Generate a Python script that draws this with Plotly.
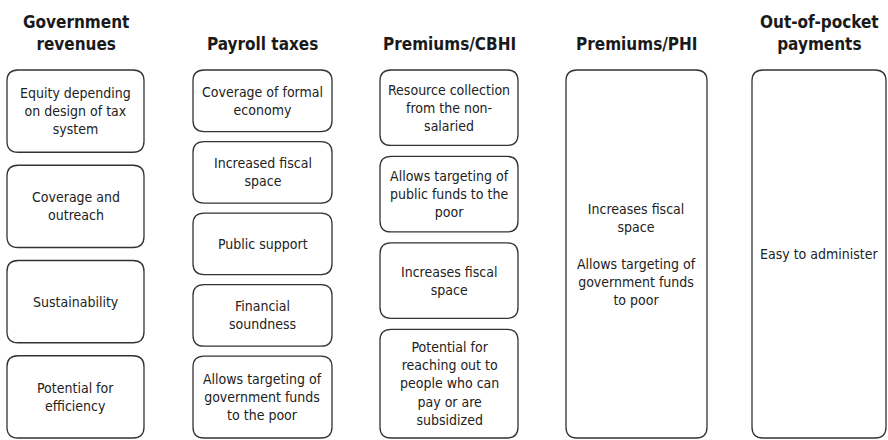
import plotly.graph_objects as go

# column headers and the points listed under each one
titles = [
    "Government<br>revenues",
    "Payroll taxes",
    "Premiums/CBHI",
    "Premiums/PHI",
    "Out-of-pocket<br>payments",
]
gov_revenues = [
    "Equity depending<br>on design of tax<br>system",
    "Coverage and<br>outreach",
    "Sustainability",
    "Potential for<br>efficiency",
]
payroll_taxes = [
    "Coverage of formal<br>economy",
    "Increased fiscal<br>space",
    "Public support",
    "Financial<br>soundness",
    "Allows targeting of<br>government funds<br>to the poor",
]
premiums_cbhi = [
    "Resource collection<br>from the non-<br>salaried",
    "Allows targeting of<br>public funds to the<br>poor",
    "Increases fiscal<br>space",
    "Potential for<br>reaching out to<br>people who can<br>pay or are<br>subsidized",
]
premiums_phi = [
    "Increases fiscal<br>space<br><br>Allows targeting of<br>government funds<br>to poor",
]
out_of_pocket = ["Easy to administer"]

columns = [gov_revenues, payroll_taxes, premiums_cbhi, premiums_phi, out_of_pocket]

# layout (pixel space, y downwards)
W, H = 888, 440
col_x = [(7, 144), (193, 332), (380, 518), (566, 707), (752, 886)]
box_top, box_bottom = 70, 438
gaps = [13, 10, 11, 0, 0]
weights = [
    [1, 1, 1, 1],
    [1, 1, 1, 1, 1.33],
    [1, 1, 1, 1.44],
    [1],
    [1],
]
RADIUS = 11
LINE = "#333333"
FONT = "Liberation Sans Narrow, Arial Narrow, DejaVu Sans Condensed, sans-serif"


def rounded_box(x0, y0, x1, y1, r):
    return (
        f"M {x0 + r},{y0} L {x1 - r},{y0} Q {x1},{y0} {x1},{y0 + r} "
        f"L {x1},{y1 - r} Q {x1},{y1} {x1 - r},{y1} "
        f"L {x0 + r},{y1} Q {x0},{y1} {x0},{y1 - r} "
        f"L {x0},{y0 + r} Q {x0},{y0} {x0 + r},{y0} Z"
    )


fig = go.Figure()
shapes = []
annotations = []

for title, items, (x0, x1), gap, wts in zip(titles, columns, col_x, gaps, weights):
    cx = (x0 + x1) / 2
    annotations.append(dict(
        x=cx, y=56, xref="x", yref="y", text=f"<b>{title}</b>",
        showarrow=False, yanchor="bottom", align="center",
        font=dict(family=FONT, size=17, color="#1a1a1a"),
    ))
    avail = box_bottom - box_top - gap * (len(items) - 1)
    unit = avail / sum(wts)
    y = box_top
    for text, w in zip(items, wts):
        h = unit * w
        shapes.append(dict(
            type="path", xref="x", yref="y",
            path=rounded_box(x0, y, x1, y + h, RADIUS),
            line=dict(color=LINE, width=1.3), fillcolor="white",
        ))
        annotations.append(dict(
            x=cx, y=y + h / 2, xref="x", yref="y", text=text,
            showarrow=False, align="center",
            font=dict(family=FONT, size=14, color="#222222"),
        ))
        y += h + gap

fig.update_layout(
    width=W, height=H,
    margin=dict(l=0, r=0, t=0, b=0),
    plot_bgcolor="white", paper_bgcolor="white",
    shapes=shapes, annotations=annotations,
    showlegend=False,
    xaxis=dict(range=[0, W], visible=False, fixedrange=True),
    yaxis=dict(range=[H, 0], visible=False, fixedrange=True),
)

# drop the page's default body margin so the figure sits at the window corner
fig.write_html(
    "out.html",
    config={"displayModeBar": False},
    post_script="document.body.style.margin='0';document.body.style.overflow='hidden';",
)
